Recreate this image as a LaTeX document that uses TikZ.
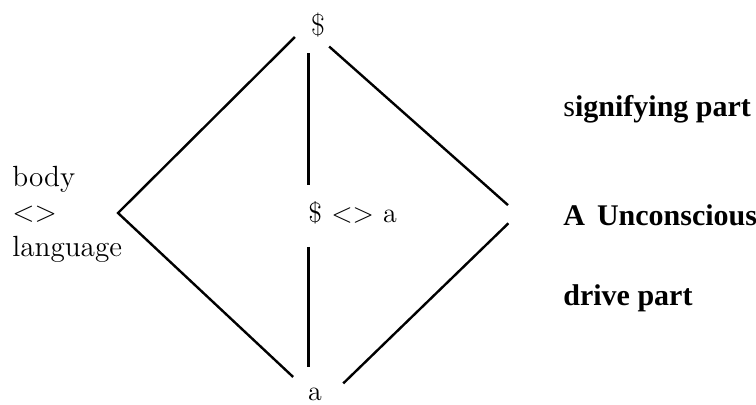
\documentclass[tikz,border=0pt]{standalone}
\usepackage{fontspec}
\newfontfamily\partfont{Liberation Serif}
\usetikzlibrary{positioning,calc}

\begin{document}
\begin{tikzpicture}[
  x=0.5pt, y=-0.5pt,
  edge/.style={
    draw=black,
    line width=1.2pt,
  },
  stem/.style={
    draw=black,
    line width=1.5pt,
  },
  sym/.style={
    font=\fontsize{14}{18}\selectfont,
    inner sep=0pt,
  },
  side/.style={
    font=\fontsize{14.6}{17.5}\selectfont,
    inner sep=0pt,
    align=left,
  },
  part/.style={
    font=\partfont\bfseries\fontsize{15}{17}\selectfont,
    inner sep=0pt,
    anchor=base west,
  },
]

\useasboundingbox (0,0) rectangle (756,405);

% =============================================================================
% Diamond corners and symbols
% =============================================================================
\coordinate (apex)  at (306,26);
\coordinate (left)  at (118,213);
\coordinate (right) at (518,214);
\coordinate (foot)  at (322,404);

\node[sym, font=\fontsize{15}{18}\selectfont] (subject) at (318,25) {\$};
\node[sym] (object) at (315,394) {a};
\node[sym, anchor=base west] (fantasy) at (308,223) {\$ <> a};
\node[side, anchor=west] (body) at (12,214) {body\\<>\\language};

\draw[edge, shorten <=7.8pt, shorten >=19.8pt] (apex) -- (left) -- (foot);
\draw[edge, shorten <=15.5pt, shorten >=6.7pt] (apex) -- (right);
\draw[edge, shorten <=6.7pt, shorten >=14.8pt] (right) -- (foot);

% vertical axis, broken by the formula
\draw[stem, shorten <=7.9pt, shorten >=8.5pt]
  (subject.south -| fantasy.west) -- (fantasy.north west);
\draw[stem, shorten <=11pt, shorten >=10pt]
  (fantasy.south west) -- (object.north -| fantasy.west);

% =============================================================================
% Right column labels
% =============================================================================
\node[part] (signifying) at (563,117) {{\mdseries s}ignifying part};
\node[part] (unconscious) at (563,226) {A\hspace{0.4em}Unconscious};
\node[part] (drive) at (563,306) {drive part};

\end{tikzpicture}
\end{document}
